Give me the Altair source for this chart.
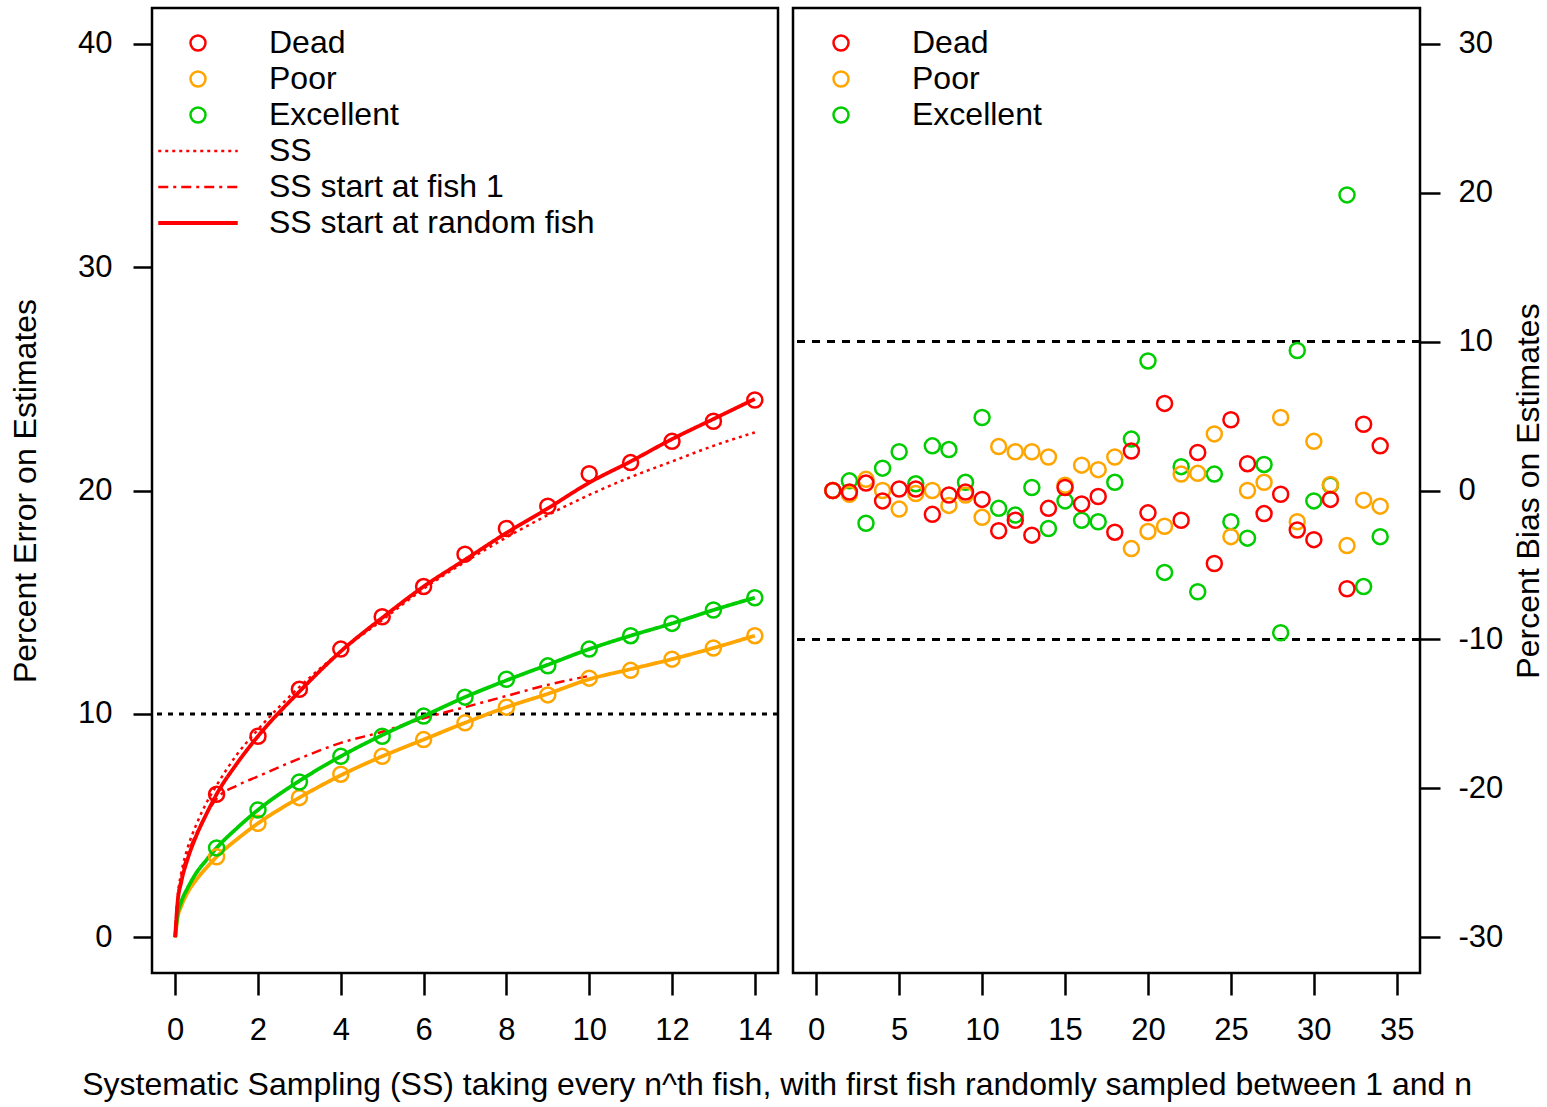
import altair as alt
import pandas as pd

FONT = "Liberation Sans"

conditions = ["Dead", "Poor", "Excellent"]
condition_colors = ["#FF0000", "#FFA500", "#00CD00"]
methods = ["SS", "SS start at fish 1", "SS start at random fish"]

# Percent error on estimates for every n-th fish sampled
n_error = list(range(1, 15))
error_dead = [6.4, 9.0, 11.1, 12.9, 14.35, 15.7, 17.15, 18.3, 19.3, 20.75, 21.25, 22.2, 23.1, 24.05]
error_poor = [3.6, 5.1, 6.25, 7.3, 8.1, 8.85, 9.6, 10.3, 10.85, 11.6, 11.95, 12.45, 12.95, 13.5]
error_excellent = [4.0, 5.7, 6.95, 8.1, 9.0, 9.9, 10.75, 11.55, 12.15, 12.9, 13.5, 14.05, 14.65, 15.2]

# Fitted error curves
curve_n = [0, 0.05, 0.15, 0.3, 0.5, 0.75, 1, 1.5, 2, 3, 4, 5, 6, 7, 8, 9, 10, 11, 12, 13, 14]
curve_dead_ss = [0, 1.6, 2.9, 4.0, 5.0, 6.0, 6.8, 8.2, 9.3, 11.2, 12.8, 14.2, 15.6, 16.8, 17.9, 18.9, 19.8, 20.6, 21.3, 22.0, 22.6]
curve_n_fish1 = [0, 0.05, 0.15, 0.3, 0.5, 0.75, 1, 1.5, 2, 3, 4, 5, 6, 7, 8, 9, 10]
curve_dead_fish1 = [0, 1.5, 2.7, 3.7, 4.6, 5.5, 6.2, 6.8, 7.2, 8.0, 8.7, 9.2, 9.8, 10.3, 10.8, 11.3, 11.7]
curve_dead_random = [0, 1.4, 2.5, 3.5, 4.5, 5.5, 6.4, 7.8, 9.0, 11.0, 12.8, 14.3, 15.7, 16.9, 18.1, 19.2, 20.35, 21.3, 22.3, 23.2, 24.1]
curve_poor_random = [0, 0.8, 1.4, 2.0, 2.55, 3.1, 3.6, 4.4, 5.1, 6.25, 7.25, 8.1, 8.85, 9.6, 10.3, 10.9, 11.55, 12.0, 12.45, 12.95, 13.5]
curve_excellent_random = [0, 0.9, 1.6, 2.2, 2.85, 3.45, 4.0, 4.9, 5.7, 7.0, 8.1, 9.05, 9.9, 10.75, 11.5, 12.2, 12.9, 13.5, 14.05, 14.65, 15.2]

# Percent bias on estimates
n_bias = list(range(1, 35))
bias_dead = [0.0, -0.1, 0.5, -0.7, 0.1, 0.1, -1.6, -0.3, -0.1, -0.6, -2.7, -2.0, -3.0, -1.2, 0.2, -0.9, -0.4,
             -2.8, 2.65, -1.5, 5.85, -2.0, 2.55, -4.9, 4.75, 1.8, -1.55, -0.25, -2.65, -3.3, -0.6, -6.6, 4.45, 3.0]
bias_poor = [0.0, -0.25, 0.75, 0.0, -1.25, -0.2, 0.0, -1.0, -0.3, -1.8, 2.95, 2.6, 2.6, 2.25, 0.35, 1.7, 1.4,
             2.25, -3.9, -2.75, -2.4, 1.1, 1.15, 3.8, -3.1, 0.0, 0.55, 4.9, -2.1, 3.3, 0.4, -3.7, -0.65, -1.05]
bias_excellent = [0.0, 0.65, -2.2, 1.5, 2.6, 0.45, 3.0, 2.75, 0.55, 4.9, -1.2, -1.65, 0.2, -2.55, -0.7, -2.0, -2.1,
                  0.55, 3.45, 8.7, -5.5, 1.6, -6.8, 1.1, -2.1, -3.2, 1.75, -9.55, 9.4, -0.7, 0.35, 19.85, -6.45, -3.1]

error_threshold = [10]
bias_thresholds = [10, -10]

# ---- tables
points_left = pd.concat([
    pd.DataFrame({"n": n_error, "value": vals, "condition": cond})
    for cond, vals in zip(conditions, [error_dead, error_poor, error_excellent])
])

curve_parts = [
    ("Dead SS", "Dead", "SS", curve_n, curve_dead_ss),
    ("Dead fish1", "Dead", "SS start at fish 1", curve_n_fish1, curve_dead_fish1),
    ("Poor random", "Poor", "SS start at random fish", curve_n, curve_poor_random),
    ("Excellent random", "Excellent", "SS start at random fish", curve_n, curve_excellent_random),
    ("Dead random", "Dead", "SS start at random fish", curve_n, curve_dead_random),
]
curves = pd.concat([
    pd.DataFrame({"n": xs, "value": ys, "series": name, "condition": cond, "method": meth})
    for name, cond, meth, xs, ys in curve_parts
])

points_right = pd.concat([
    pd.DataFrame({"n": n_bias, "value": vals, "condition": cond})
    for cond, vals in zip(["Excellent", "Poor", "Dead"], [bias_excellent, bias_poor, bias_dead])
])

# ---- shared styling
tick_axis = dict(domain=False, grid=False, ticks=True, tickColor="black", tickWidth=2.5,
                 labelFont=FONT, labelColor="black", titleFont=FONT, titleColor="black",
                 titleFontWeight="normal")

legend_common = dict(title=None, orient="none", symbolSize=225, labelFont=FONT, labelFontSize=32,
                     labelColor="black", labelOffset=55, rowPadding=4, padding=0, labelLimit=0)

# ---- left panel: percent error
xl = alt.X("n:Q", scale=alt.Scale(domain=[-0.56, 14.56], nice=False, zero=False),
           axis=alt.Axis(values=list(range(0, 15, 2)), title=None, tickSize=22, labelPadding=20,
                         labelFontSize=31, **tick_axis))
yl_scale = alt.Scale(domain=[-1.6, 41.6], nice=False, zero=False)
yl = alt.Y("value:Q", scale=yl_scale,
           axis=alt.Axis(values=[0, 10, 20, 30, 40], title="Percent Error on Estimates", tickSize=19,
                         labelPadding=21, labelFontSize=31, titleFontSize=32, titlePadding=35,
                         **tick_axis))

line_legend = alt.Legend(legendX=30, legendY=127, symbolType="M-5.3,0L5.3,0",
                         symbolStrokeColor="#FF0000", **legend_common)

left_ref = alt.Chart(pd.DataFrame({"level": error_threshold})).mark_rule(
    color="black", strokeDash=[5, 6], strokeWidth=3
).encode(y=alt.Y("level:Q", scale=yl_scale))

left_lines = alt.Chart(curves).mark_line(interpolate="monotone").encode(
    x=xl, y=yl,
    stroke=alt.Stroke("condition:N", scale=alt.Scale(domain=conditions, range=condition_colors), legend=None),
    strokeDash=alt.StrokeDash("method:N", scale=alt.Scale(domain=methods, range=[[3, 4], [10, 5, 3, 5], [1, 0]]),
                              legend=line_legend),
    strokeWidth=alt.StrokeWidth("method:N", scale=alt.Scale(type="ordinal", domain=methods, range=[2.5, 2.5, 3.8]),
                                legend=line_legend),
    detail="series:N",
    order="n:Q",
)

left_points = alt.Chart(points_left).mark_point(
    shape="circle", filled=False, size=225, strokeWidth=2.5, opacity=1
).encode(
    x=xl, y=yl,
    color=alt.Color("condition:N", scale=alt.Scale(domain=conditions, range=condition_colors),
                    legend=alt.Legend(legendX=30, legendY=19, symbolType="circle",
                                      symbolStrokeWidth=2.5, symbolOpacity=1, **legend_common)),
)

left = alt.layer(left_ref, left_lines, left_points).properties(width=626, height=965)

# ---- right panel: percent bias
xr = alt.X("n:Q", scale=alt.Scale(domain=[-1.4, 36.4], nice=False, zero=False),
           axis=alt.Axis(values=list(range(0, 36, 5)), title=None, tickSize=22, labelPadding=20,
                         labelFontSize=31, **tick_axis))
yr_scale = alt.Scale(domain=[-32.4, 32.4], nice=False, zero=False)
yr = alt.Y("value:Q", scale=yr_scale,
           axis=alt.Axis(orient="right", values=[-30, -20, -10, 0, 10, 20, 30],
                         labelExpr="'' + datum.value",
                         title="Percent Bias on Estimates", titleAngle=270, titleBaseline="top",
                         tickSize=20, labelPadding=18, labelFontSize=31, titleFontSize=32,
                         titlePadding=11, **tick_axis))

right_ref = alt.Chart(pd.DataFrame({"level": bias_thresholds})).mark_rule(
    color="black", strokeDash=[8, 7], strokeWidth=3
).encode(y=alt.Y("level:Q", scale=yr_scale))

right_points = alt.Chart(points_right).mark_point(
    shape="circle", filled=False, size=225, strokeWidth=2.5, opacity=1
).encode(
    x=xr, y=yr,
    color=alt.Color("condition:N", scale=alt.Scale(domain=conditions, range=condition_colors),
                    legend=alt.Legend(legendX=32, legendY=19, symbolType="circle",
                                      symbolStrokeWidth=2.5, symbolOpacity=1, **legend_common)),
)

right = alt.layer(right_ref, right_points).properties(width=627, height=965)

chart = alt.hconcat(left, right, spacing=9).resolve_scale(
    x="independent", y="independent", color="independent"
).resolve_legend(color="independent").properties(
    title=alt.TitleParams(
        "Systematic Sampling (SS) taking every n^th fish, with first fish randomly sampled between 1 and n",
        orient="bottom", anchor="middle", font=FONT, fontSize=32, fontWeight="normal", color="black",
        offset=24),
    padding={"left": 8, "top": 6, "right": 0, "bottom": 0},
    background="white",
).configure_view(stroke="black", strokeWidth=2.5)

chart.save("out.html", embed_options={"renderer": "svg", "actions": False})
